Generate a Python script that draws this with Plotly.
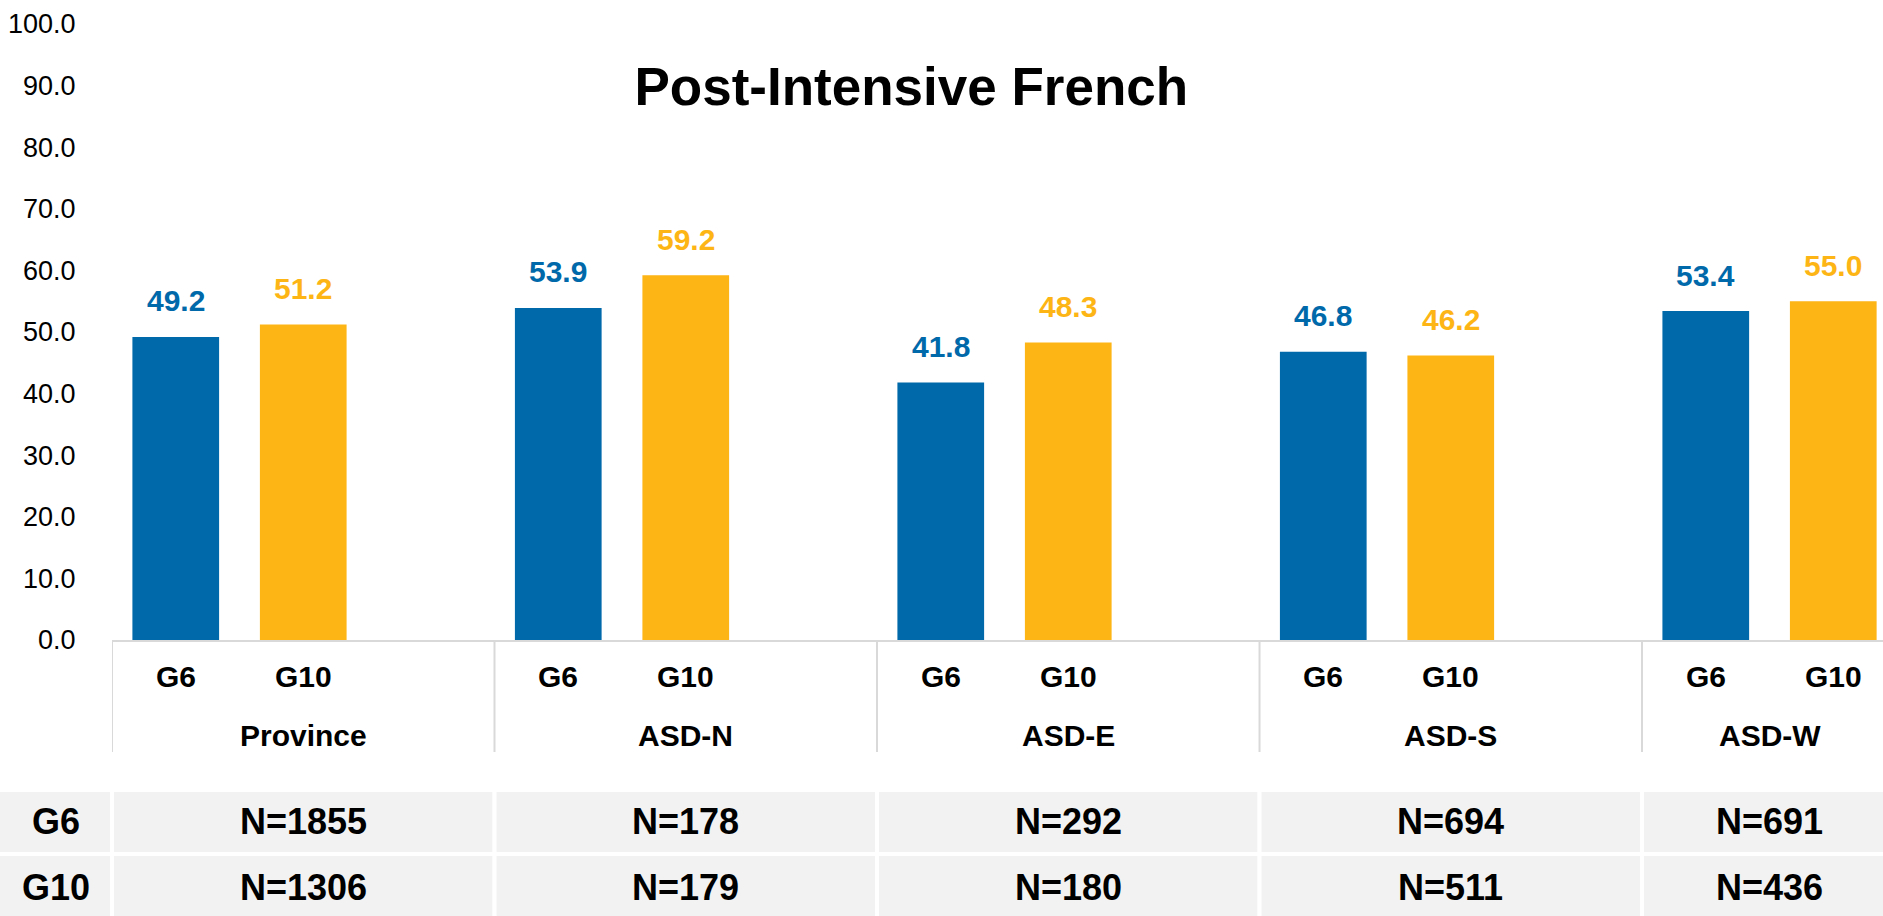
import plotly.graph_objects as go

regions = ['Province', 'ASD-N', 'ASD-E', 'ASD-S', 'ASD-W']
grades = ['G6', 'G10']
g6_scores = [49.2, 53.9, 41.8, 46.8, 53.4]
g10_scores = [51.2, 59.2, 48.3, 46.2, 55.0]
g6_counts = [1855, 178, 292, 694, 691]
g10_counts = [1306, 179, 180, 511, 436]

BLUE = '#0069AA'
GOLD = '#FDB515'
LINE = '#D9D9D9'
FONT = 'Liberation Sans, Arial, sans-serif'
W, H = 1883, 916
PLOT_LEFT = 112 / W


def py(pixel):
    # pixel offset from the top of the figure -> paper y
    return 1 - pixel / H


# one slot per bar plus an empty spacer slot after every region but the last
outer, inner, values, colors = [], [], [], []
for i, region in enumerate(regions):
    for grade, score, color in zip(grades, (g6_scores[i], g10_scores[i]), (BLUE, GOLD)):
        outer.append(region)
        inner.append(grade)
        values.append(score)
        colors.append(color)
    if i < len(regions) - 1:
        outer.append(region)
        inner.append(' ')
        values.append(None)
        colors.append(BLUE)

fig = go.Figure()
fig.add_trace(go.Bar(
    x=[outer, inner],
    y=values,
    marker=dict(color=colors, line=dict(width=0)),
    hoverinfo='skip',
))

bold = dict(family=FONT, color='black', weight='bold')

# value labels and grade labels per slot
for idx, (v, c, g) in enumerate(zip(values, colors, inner)):
    if v is None:
        continue
    fig.add_annotation(
        x=idx, y=v, xref='x', yref='y', text=f'{v:.1f}', showarrow=False,
        xanchor='center', yanchor='middle', yshift=36,
        font=dict(family=FONT, size=30, color=c, weight='bold'),
    )
    fig.add_annotation(
        x=idx, y=py(676), xref='x', yref='paper', text=g, showarrow=False,
        xanchor='center', yanchor='middle', font=dict(size=30, **bold),
    )

# region labels, group dividers and the N table
table_rows = [('G6', g6_counts), ('G10', g10_counts)]
row_edges = [790, 854, 920]
cell = dict(type='rect', fillcolor='#F2F2F2', line=dict(color='white', width=4), layer='above')
for r, (label, counts) in enumerate(table_rows):
    y0, y1 = py(row_edges[r + 1]), py(row_edges[r])
    fig.add_shape(xref='paper', yref='paper', x0=-0.01, x1=PLOT_LEFT, y0=y0, y1=y1, **cell)
    fig.add_annotation(
        x=PLOT_LEFT / 2, y=(y0 + y1) / 2, xref='paper', yref='paper', text=label,
        showarrow=False, xanchor='center', yanchor='middle', font=dict(size=36, **bold),
    )

for k, region in enumerate(regions):
    slots = [s for s, o in enumerate(outer) if o == region]
    left, right = slots[0] - 0.5, slots[-1] + 0.5
    mid = sum(slots) / len(slots)
    fig.add_shape(
        type='line', xref='x', yref='paper', x0=left, x1=left,
        y0=py(640), y1=py(752), line=dict(color=LINE, width=2),
    )
    fig.add_annotation(
        x=mid, y=py(735), xref='x', yref='paper', text=region, showarrow=False,
        xanchor='center', yanchor='middle', font=dict(size=30, **bold),
    )
    for r, (label, counts) in enumerate(table_rows):
        y0, y1 = py(row_edges[r + 1]), py(row_edges[r])
        fig.add_shape(xref='x', yref='paper', x0=left, x1=right, y0=y0, y1=y1, **cell)
        fig.add_annotation(
            x=mid, y=(y0 + y1) / 2, xref='x', yref='paper', text=f'N={counts[k]}',
            showarrow=False, xanchor='center', yanchor='middle',
            font=dict(size=36, **bold),
        )

fig.update_layout(
    width=W, height=H,
    margin=dict(l=0, r=0, t=0, b=0),
    plot_bgcolor='white', paper_bgcolor='white',
    showlegend=False, bargap=0.32,
    font=dict(family=FONT, color='black'),
    title=dict(
        text='Post-Intensive French', x=0.484, xanchor='center',
        y=py(86), yanchor='middle', yref='container',
        font=dict(family=FONT, size=53, color='black', weight='bold'),
    ),
    xaxis=dict(
        domain=[PLOT_LEFT, 1], range=[-0.5, 13.39],
        showline=True, linecolor=LINE, linewidth=2,
        showticklabels=False, ticks='', showgrid=False, automargin=False,
    ),
    yaxis=dict(
        domain=[py(640), py(24)], range=[0, 100], dtick=10,
        tickformat='.1f', showgrid=False, zeroline=False,
        tickfont=dict(family=FONT, size=27, color='black'),
        ticks='outside', ticklen=30, tickcolor='rgba(0,0,0,0)',
        automargin=False,
    ),
)

fig.write_html(
    'out.html',
    config={'displayModeBar': False},
    post_script="document.body.style.margin='0';",
)
